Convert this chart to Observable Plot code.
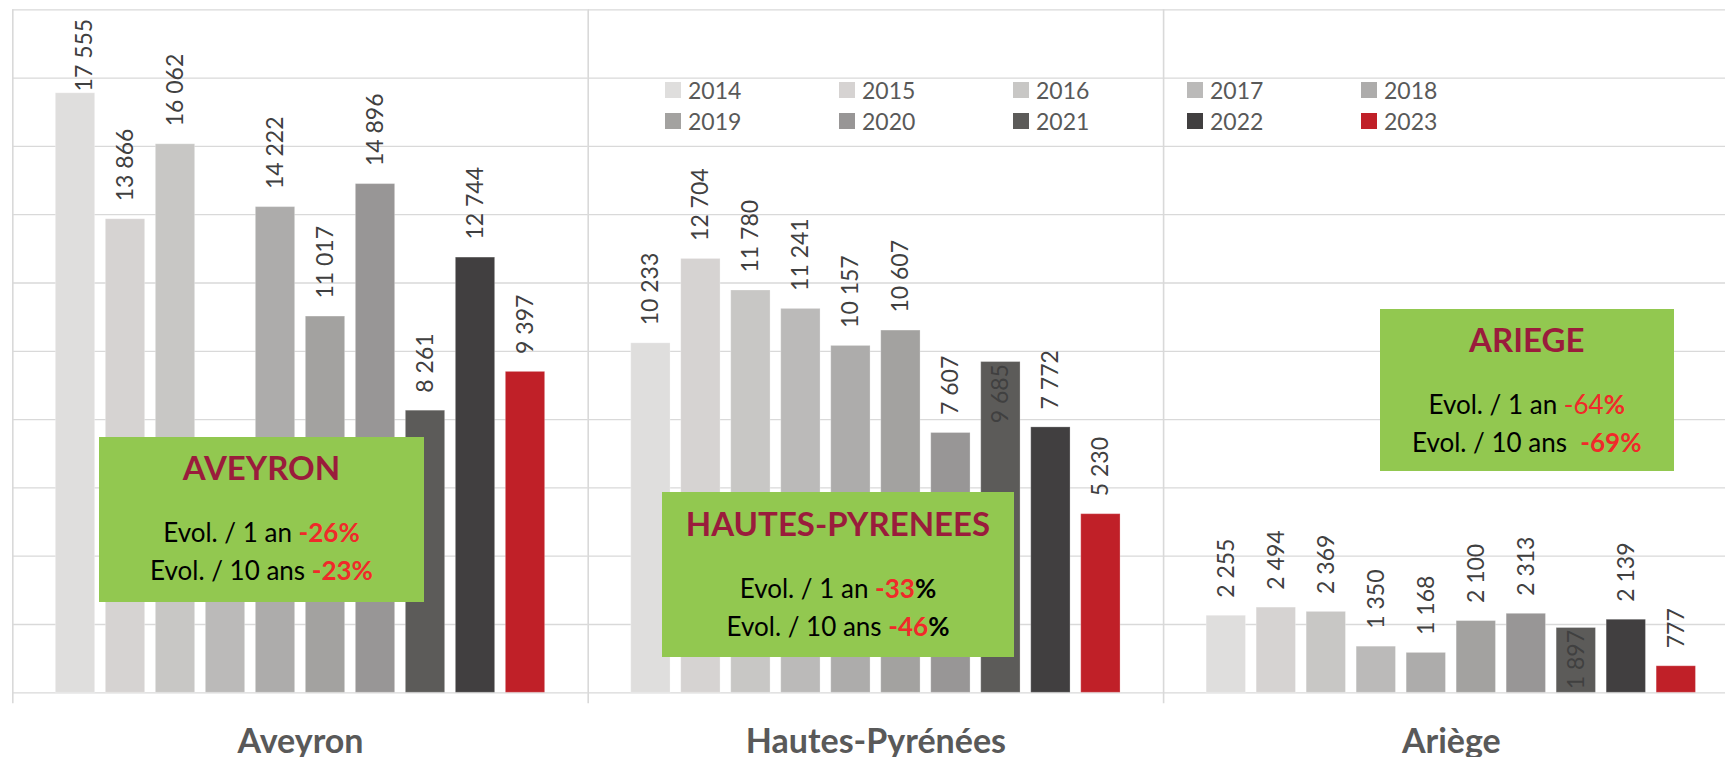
<!DOCTYPE html>
<html>
<head>
<meta charset="utf-8">
<script src="https://cdn.jsdelivr.net/npm/d3@7"></script>
<script src="https://cdn.jsdelivr.net/npm/@observablehq/plot@0.6"></script>
<style>
html, body { margin: 0; padding: 0; background: #fff; overflow: hidden; }
#wrap { position: relative; width: 1740px; height: 757px; font-family: Lato, sans-serif; }
#legend { position: absolute; left: 665px; top: 74px; width: 880px; }
#legend .lg-swatches { font-family: Lato, sans-serif !important; font-size: 23px !important; color: #595959; margin: 0 !important; }
#legend .lg-swatches-wrap { display: flex !important; flex-wrap: wrap; min-height: 0 !important; }
#legend .lg-swatch { width: 174px; height: 31px; margin: 0 !important; display: inline-flex; align-items: center; }
#legend .lg-swatch > svg { margin-right: 7px !important; }
.box { position: absolute; background: #92c850; color: #000; }
.box .ln { position: absolute; left: 0; width: 100%; text-align: center; line-height: 1.2; white-space: pre; }
.box .ttl { font-weight: bold; color: #9a1c3c; font-size: 33px; }
.box .ev { font-size: 26px; }
.rb { color: #f02a2a; font-weight: bold; }
.rn { color: #f02a2a; }
.kb { color: #000; font-weight: bold; }
</style>
</head>
<body>
<div id="wrap"></div>
<script>
// ---------- data ----------
const depts = ["Aveyron", "Hautes-Pyrénées", "Ariège"];
const years = [2014, 2015, 2016, 2017, 2018, 2019, 2020, 2021, 2022, 2023];
const aveyron = [17555, 13866, 16062, 3900, 14222, 11017, 14896, 8261, 12744, 9397];
const hautesPyrenees = [10233, 12704, 11780, 11241, 10157, 10607, 7607, 9685, 7772, 5230];
const ariege = [2255, 2494, 2369, 1350, 1168, 2100, 2313, 1897, 2139, 777];
const yearColors = ["#dfdedd", "#d6d3d2", "#c8c7c5", "#bbbab9", "#adacab", "#a3a2a0", "#989696", "#5c5b59", "#413f40", "#c02028"];
const gridValues = [0, 2000, 4000, 6000, 8000, 10000, 12000, 14000, 16000, 18000, 20000];
const boxTitles = ["AVEYRON", "HAUTES-PYRENEES", "ARIEGE"];
const evol10 = [-23, -46, -69];
const insideLabels = [["Hautes-Pyrénées", 2021], ["Ariège", 2021]];

// ---------- layout ----------
const W = 1740, H = 757;
const mL = 12.3, mR = 1.5, mT = 9.3, mB = 64.7;
const yMax = 20000;
const padInner = 0.214, padOuter = 0.861;
const labelSize = 23, labelGap = 18;

const series = [aveyron, hautesPyrenees, ariege];
const fmt = d3.formatLocale({decimal: ",", thousands: " ", grouping: [3], currency: ["", " €"]}).format(",d");
const rows = depts.flatMap((dept, i) => years.map((year, j) => ({dept, year, value: series[i][j], label: fmt(series[i][j])})));

const yScale = Plot.scale({y: {domain: [0, yMax], range: [H - mB, mT]}});
const textLen = s => (s.replace(/ /g, "").length * 0.58 + (s.split(" ").length - 1) * 0.193) * labelSize;
const isInside = d => insideLabels.some(([dp, yr]) => dp === d.dept && yr === d.year);
const overflows = d => yScale.apply(d.value) - labelGap - textLen(d.label) < mT + 9;
const normalLabels = rows.filter(d => !isInside(d) && !overflows(d));
const topLabels = rows.filter(d => !isInside(d) && overflows(d));
const innerLabels = rows.filter(isInside);

// separator offset: from centre of first band to left edge of facet
const facetW = (W - mL - mR) / depts.length;
const step = facetW / (years.length - padInner + 2 * padOuter);
const sepDx = -(step * padOuter + step * (1 - padInner) / 2);

const labelStyle = {fontSize: labelSize, fill: "#404040", fontFamily: "Lato, sans-serif", rotate: -90};

const chart = Plot.plot({
  width: W, height: H,
  marginLeft: mL, marginRight: mR, marginTop: mT, marginBottom: mB,
  facet: {marginTop: 0, marginRight: 0, marginBottom: 0, marginLeft: 0},
  facetMarginTop: 0, facetMarginRight: 0, facetMarginBottom: 0, facetMarginLeft: 0,
  style: "max-width:none;background:white;font-family:Lato,sans-serif;overflow:visible;",
  fx: {domain: depts, padding: 0, round: false, axis: null, label: null},
  x: {type: "band", domain: years, paddingInner: padInner, paddingOuter: padOuter, round: false, axis: null, label: null},
  y: {domain: [0, yMax], axis: null, label: null},
  color: {type: "ordinal", domain: years, range: yearColors},
  marks: [
    Plot.ruleY(gridValues, {stroke: "#d9d9d9", strokeWidth: 1.3}),
    Plot.ruleX(depts, {fx: d => d, x: () => years[0], dx: sepDx, insetBottom: -11, stroke: "#d9d9d9", strokeWidth: 1.6}),
    Plot.barY(rows, {fx: "dept", x: "year", y: "value", fill: "year", stroke: "#ffffff", strokeOpacity: 0.25, strokeWidth: 1}),
    Plot.text(normalLabels, {fx: "dept", x: "year", y: "value", text: "label", textAnchor: "start", dy: -labelGap, ...labelStyle}),
    Plot.text(topLabels, {fx: "dept", x: "year", text: "label", frameAnchor: "top", textAnchor: "end", dy: 9, ...labelStyle}),
    Plot.text(innerLabels, {fx: "dept", x: "year", y: "value", text: "label", textAnchor: "end", dy: 2, ...labelStyle}),
    Plot.text(depts, {fx: d => d, text: d => d, frameAnchor: "bottom", lineAnchor: "bottom", dy: 60, fontSize: 34, fontWeight: "bold", fill: "#595959", fontFamily: "Lato, sans-serif"})
  ]
});

const wrap = document.getElementById("wrap");
wrap.appendChild(chart);

// legend
const legend = Plot.legend({color: {type: "ordinal", domain: years, range: yearColors}, tickFormat: d => String(d), swatchSize: 16, className: "lg"});
const lgDiv = document.createElement("div");
lgDiv.id = "legend";
lgDiv.appendChild(legend);
wrap.appendChild(lgDiv);

// annotation boxes
const boxLayout = [
  {left: 99, top: 437, width: 325, height: 165},
  {left: 662, top: 492.3, width: 352, height: 164.4},
  {left: 1380, top: 309, width: 293.5, height: 161.7}
];
const pctMarkup = [
  [v => `<span class="rb">${v}%</span>`, v => `<span class="rb">${v}%</span>`],
  [v => `<span class="rb">${v}</span><span class="kb">%</span>`, v => `<span class="rb">${v}</span><span class="kb">%</span>`],
  [v => `<span class="rn">${v}</span><span class="rb">%</span>`, v => ` <span class="rb">${v}%</span>`]
];
const lineTop = (baseline, fs) => baseline - 0.987 * fs;
depts.forEach((dept, i) => {
  const s = series[i];
  const evol1 = Math.round((s[s.length - 1] / s[s.length - 2] - 1) * 100);
  const b = boxLayout[i];
  const div = document.createElement("div");
  div.className = "box";
  Object.assign(div.style, {left: b.left + "px", top: b.top + "px", width: b.width + "px", height: b.height + "px"});
  div.innerHTML =
    `<div class="ln ttl" style="top:${lineTop(44, 33)}px">${boxTitles[i]}</div>` +
    `<div class="ln ev" style="top:${lineTop(106, 26)}px">Evol. / 1 an ${pctMarkup[i][0](evol1)}</div>` +
    `<div class="ln ev" style="top:${lineTop(144, 26)}px">Evol. / 10 ans ${pctMarkup[i][1](evol10[i])}</div>`;
  wrap.appendChild(div);
});
</script>
</body>
</html>
